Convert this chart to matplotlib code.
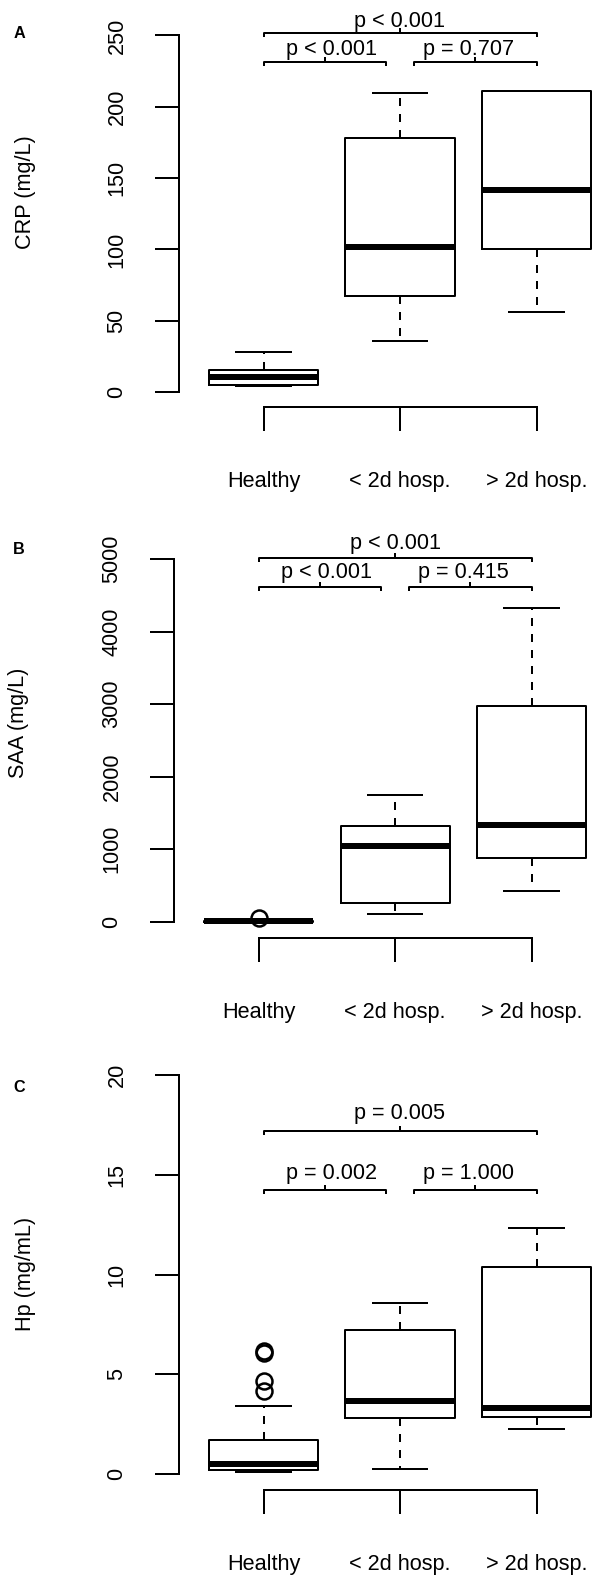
import numpy as np
import matplotlib
matplotlib.use("Agg")
import matplotlib.pyplot as plt

plt.rcParams['font.family'] = ['Liberation Sans', 'DejaVu Sans']

W, H = 592, 1578

# groups and box statistics
groups = ["Healthy", "< 2d hosp.", "> 2d hosp."]

crp_whislo = [4.5, 36, 56]
crp_q1 = [5, 67, 100]
crp_med = [10.5, 101.5, 142]
crp_q3 = [15.5, 178, 211]
crp_whishi = [28, 210, 211]
crp_fliers = [[], [], []]
crp_p = ["p < 0.001", "p = 0.707", "p < 0.001"]

saa_whislo = [0, 106, 423]
saa_q1 = [2, 262, 883]
saa_med = [5, 1048, 1334]
saa_q3 = [12, 1324, 2979]
saa_whishi = [25, 1748, 4322]
saa_fliers = [[45], [], []]
saa_p = ["p < 0.001", "p = 0.415", "p < 0.001"]

hp_whislo = [0.09, 0.26, 2.27]
hp_q1 = [0.21, 2.8, 2.87]
hp_med = [0.52, 3.66, 3.32]
hp_q3 = [1.72, 7.22, 10.37]
hp_whishi = [3.39, 8.55, 12.33]
hp_fliers = [[4.18, 4.64, 6.05, 6.15], [], []]
hp_p = ["p = 0.002", "p = 1.000", "p = 0.005"]

FS = 15.6
LW = 1.44

fig = plt.figure(figsize=(W / 100, H / 100), dpi=100)


def draw_panel(letter, ylabel, whislo, q1, med, q3, whishi, fliers, pvals,
               ymax, ystep, zero_px, ppu, bottom_px, top_px, c1_px,
               br_low, br_top, tx_low, tx_top, ylab_xy, letter_xy):
    sp = 136.5
    left_px = c1_px - 0.62 * sp
    right_px = c1_px + 2.62 * sp
    ax = fig.add_axes([left_px / W, 1 - bottom_px / H,
                       (right_px - left_px) / W, (bottom_px - top_px) / H])
    ax.set_xlim(0.38, 3.62)
    ax.set_ylim(-(bottom_px - zero_px) / ppu, (zero_px - top_px) / ppu)

    stats = []
    for i in range(3):
        stats.append(dict(whislo=whislo[i], q1=q1[i], med=med[i], q3=q3[i],
                          whishi=whishi[i], fliers=fliers[i]))
    ax.bxp(stats, positions=[1, 2, 3], widths=0.8, capwidths=0.4,
           boxprops=dict(linewidth=LW, color='black'),
           medianprops=dict(linewidth=LW * 3, color='black', solid_capstyle='butt'),
           whiskerprops=dict(linewidth=LW, color='black', linestyle=(0, (4, 4))),
           capprops=dict(linewidth=LW, color='black'),
           flierprops=dict(marker='o', markerfacecolor='none', markeredgecolor='black',
                           markersize=11.5, markeredgewidth=1.8))

    for s in ['top', 'right']:
        ax.spines[s].set_visible(False)
    ax.spines['left'].set_bounds(0, ymax)
    ax.spines['bottom'].set_bounds(1, 3)
    ax.spines['left'].set_linewidth(LW)
    ax.spines['bottom'].set_linewidth(LW)

    yt = np.arange(0, ymax + ystep / 2, ystep)
    ax.set_yticks(yt)
    ax.set_yticklabels([f"{int(v)}" for v in yt])
    ax.tick_params(axis='y', length=17, width=LW, labelsize=FS, pad=20,
                   labelrotation=90)
    for lab in ax.get_yticklabels():
        lab.set_va('center')
    ax.set_xticks([1, 2, 3])
    ax.set_xticklabels(groups)
    ax.tick_params(axis='x', length=17, width=LW, labelsize=FS, pad=29)

    # significance brackets
    d = 4 / ppu
    segs = [(1, 1.9, br_low, pvals[0], 0.045),
            (2.1, 3, br_low, pvals[1], -0.05),
            (1, 3, br_top, pvals[2], 0.0)]
    for k, (a, b, yb, txt, off) in enumerate(segs):
        m = (a + b) / 2
        ax.plot([a, a, b, b], [yb - d, yb, yb, yb - d], color='black', lw=LW,
                clip_on=False, solid_capstyle='butt')
        ax.plot([m, m], [yb, yb + d], color='black', lw=LW, clip_on=False)
        ty = tx_top if k == 2 else tx_low
        ax.text(m + off, ty, txt, ha='center', va='center', fontsize=FS,
                clip_on=False)

    fig.text(ylab_xy[0] / W, 1 - ylab_xy[1] / H, ylabel, rotation=90,
             ha='center', va='center', fontsize=FS)
    fig.text(letter_xy[0] / W, 1 - letter_xy[1] / H, letter, ha='center',
             va='center', fontsize=11.7, fontweight='bold')
    return ax


draw_panel("A", "CRP (mg/L)", crp_whislo, crp_q1, crp_med, crp_q3, crp_whishi,
           crp_fliers, crp_p, 250, 50, 392, 71.3 / 50, 407, 0, 263.5,
           231.6, 251.5, 240.5, 260, (25, 192), (19, 33))
draw_panel("B", "SAA (mg/L)", saa_whislo, saa_q1, saa_med, saa_q3, saa_whishi,
           saa_fliers, saa_p, 5000, 1000, 921.7, 72.5 / 1000, 938, 530, 258.6,
           4621, 5021, 4814, 5210, (19, 723), (19, 549))
draw_panel("C", "Hp (mg/mL)", hp_whislo, hp_q1, hp_med, hp_q3, hp_whishi,
           hp_fliers, hp_p, 20, 5, 1474, 399 / 20, 1490, 1050, 263.5,
           14.22, 17.2, 15.05, 18.05, (25, 1274), (19, 1088))

fig.savefig("out.png", dpi=100)
